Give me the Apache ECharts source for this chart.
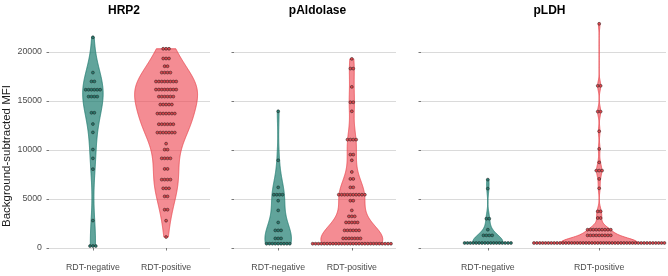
<!DOCTYPE html>
<html>
<head>
<meta charset="utf-8">
<script src="https://cdn.jsdelivr.net/npm/echarts@6/dist/echarts.min.js"></script>
<style>
  html, body { margin: 0; padding: 0; background: #fff; }
  #chart { width: 668px; height: 276px; }
</style>
</head>
<body>
<div id="chart"></div>
<script>
const panels = ['HRP2', 'pAldolase', 'pLDH'];
const groups = ['RDT-negative', 'RDT-positive'];
const yTicks = [0, 5000, 10000, 15000, 20000];

// dotplot bins: bin centre (MFI) and number of stacked dots
const hrp2NegY = [21500, 17900, 17000, 16150, 15450, 13800, 12650, 11800, 10050, 9150, 8050, 2800, 200];
const hrp2NegN = [1, 1, 2, 6, 4, 2, 1, 1, 1, 1, 1, 1, 3];
const hrp2PosY = [20330, 19340, 18550, 17900, 16990, 16170, 15450, 14640, 13720, 12630, 11780, 10650, 10040, 9150, 8070, 6980, 6090, 5270, 3910, 2790, 1120];
const hrp2PosN = [3, 3, 2, 4, 8, 8, 6, 5, 7, 6, 7, 1, 2, 4, 2, 4, 3, 2, 2, 1, 1];

const aldNegY = [13950, 8950, 6190, 5440, 4830, 3840, 2610, 1800, 980, 440];
const aldNegN = [1, 1, 1, 4, 1, 1, 1, 3, 3, 9];
const aldPosY = [19300, 18310, 16440, 14870, 13950, 11060, 9530, 8950, 7760, 7050, 6190, 5440, 4830, 3840, 3230, 2610, 1800, 980, 440];
const aldPosN = [1, 2, 1, 2, 1, 4, 2, 1, 1, 2, 2, 10, 2, 1, 3, 5, 6, 7, 28];

const ldhNegY = [6980, 6060, 2990, 1870, 1290, 510];
const ldhNegN = [1, 1, 2, 1, 4, 17];
const ldhPosY = [22880, 16550, 13920, 11910, 10110, 8740, 7900, 7050, 6090, 3740, 3060, 1870, 1290, 510];
const ldhPosN = [1, 2, 2, 1, 1, 1, 3, 1, 1, 2, 2, 9, 9, 46];

const binsY = [[hrp2NegY, hrp2PosY], [aldNegY, aldPosY], [ldhNegY, ldhPosY]];
const binsN = [[hrp2NegN, hrp2PosN], [aldNegN, aldPosN], [ldhNegN, ldhPosN]];

// layout / style
const FONT = "'Liberation Sans', Arial, sans-serif";
const yMin = -1100, yMax = 23900;
const grids = [
  { left: 49, width: 161 },
  { left: 234, width: 162 },
  { left: 421, width: 245 }
];
const titleX = [119, 312.5, 544.5];
const violinHalf = [[0.14, 0.43], [0.18, 0.42], [0.135, 0.343]];
const violinAdjust = [[1, 1], [1, 1], [2.5, 1.3]];
const violinFill = ['rgba(30,125,112,0.7)', 'rgba(238,70,80,0.62)'];
const violinLine = ['#1E7A6E', '#E8464E'];
const dotFill = ['#2A7C70', '#E0474D'];
const dotStep = 2.9, dotR = 1.45;

// kernel density (gaussian, bw.nrd0, trimmed to data range) like geom_violin
const expand = (ys, ns) => ys.flatMap((y, i) => Array(ns[i]).fill(y)).sort((a, b) => a - b);
const quantile = (s, p) => {
  const h = (s.length - 1) * p, lo = Math.floor(h);
  return s[lo] + (h - lo) * (s[Math.min(lo + 1, s.length - 1)] - s[lo]);
};
const bwNrd0 = s => {
  const n = s.length, mean = s.reduce((a, b) => a + b, 0) / n;
  const sd = Math.sqrt(s.reduce((a, b) => a + (b - mean) ** 2, 0) / (n - 1));
  let lo = Math.min(sd, (quantile(s, 0.75) - quantile(s, 0.25)) / 1.34);
  if (!lo) lo = sd || Math.abs(s[0]) || 1;
  return 0.9 * lo * Math.pow(n, -0.2);
};
const violinProfile = (s, adjust) => {
  const bw = bwNrd0(s) * adjust, lo = s[0], hi = s[s.length - 1], pts = [];
  for (let k = 0; k < 300; k++) {
    const y = lo + (hi - lo) * k / 299;
    let d = 0;
    s.forEach(v => { const z = (y - v) / bw; d += Math.exp(-0.5 * z * z); });
    pts.push([y, d]);
  }
  const max = Math.max(...pts.map(p => p[1]));
  return pts.map(p => [p[0], p[1] / max]);
};
const profiles = binsY.map((pair, p) =>
  pair.map((ys, g) => violinProfile(expand(ys, binsN[p][g]), violinAdjust[p][g])));

const chart = echarts.init(document.getElementById('chart'), null, { renderer: 'canvas' });

const series = [];
panels.forEach((name, p) => {
  series.push({
    type: 'custom',
    xAxisIndex: p,
    yAxisIndex: p,
    silent: true,
    data: [[1, 0], [2, 0]],
    renderItem: (params, api) => {
      const g = params.dataIndex, prof = profiles[p][g], hw = violinHalf[p][g], cx = g + 1;
      const left = prof.map(([y, d]) => api.coord([cx - d * hw, y]));
      const right = prof.map(([y, d]) => api.coord([cx + d * hw, y])).reverse();
      return {
        type: 'polygon',
        shape: { points: left.concat(right) },
        style: { fill: violinFill[g], stroke: violinLine[g], lineWidth: 0.8 }
      };
    }
  });
  const dots = [];
  binsY[p].forEach((ys, g) => ys.forEach((y, i) => dots.push([g + 1, y, binsN[p][g][i], g])));
  series.push({
    type: 'custom',
    xAxisIndex: p,
    yAxisIndex: p,
    silent: true,
    data: dots,
    renderItem: (params, api) => {
      const c = api.coord([api.value(0), api.value(1)]);
      const n = api.value(2), g = api.value(3);
      const children = [];
      for (let i = 0; i < n; i++) {
        children.push({
          type: 'circle',
          shape: { cx: c[0] + (i - (n - 1) / 2) * dotStep, cy: c[1], r: dotR },
          style: { fill: dotFill[g], stroke: '#1a1a1a', lineWidth: 0.5 }
        });
      }
      return { type: 'group', children };
    }
  });
});

chart.setOption({
  animation: false,
  backgroundColor: '#fff',
  title: panels.map((t, i) => ({
    text: t,
    left: titleX[i],
    top: 0,
    textAlign: 'center',
    textStyle: { fontSize: 12, fontWeight: 'bold', color: '#000', fontFamily: FONT }
  })),
  graphic: [{
    type: 'text',
    x: 7,
    y: 156,
    rotation: Math.PI / 2,
    style: {
      text: 'Background-subtracted MFI',
      fontSize: 11.5,
      fontFamily: FONT,
      fill: '#1a1a1a',
      align: 'center',
      verticalAlign: 'middle'
    }
  }],
  grid: grids.map(g => ({ left: g.left, width: g.width, top: 13.8, height: 245 })),
  xAxis: panels.map((t, i) => ({
    gridIndex: i,
    type: 'value',
    min: 0.4,
    max: 2.6,
    axisLine: { show: false },
    splitLine: { show: false },
    axisTick: { show: true, customValues: [1, 2], length: 2.5, lineStyle: { color: '#555', width: 0.8 } },
    axisLabel: {
      customValues: [1, 2],
      formatter: v => groups[Math.round(v) - 1],
      margin: 4,
      fontSize: 8.8,
      color: '#4d4d4d',
      fontFamily: FONT
    }
  })),
  yAxis: panels.map((t, i) => ({
    gridIndex: i,
    type: 'value',
    min: yMin,
    max: yMax,
    axisLine: { show: false },
    axisTick: { show: true, customValues: yTicks, length: 2.5, lineStyle: { color: '#555', width: 0.8 } },
    axisLabel: {
      show: i === 0,
      customValues: yTicks,
      formatter: v => String(v),
      margin: 7,
      fontSize: 8.8,
      color: '#4d4d4d',
      fontFamily: FONT
    },
    splitLine: { show: true, lineStyle: { color: '#dadada', width: 1 } }
  })),
  series
});
</script>
</body>
</html>
